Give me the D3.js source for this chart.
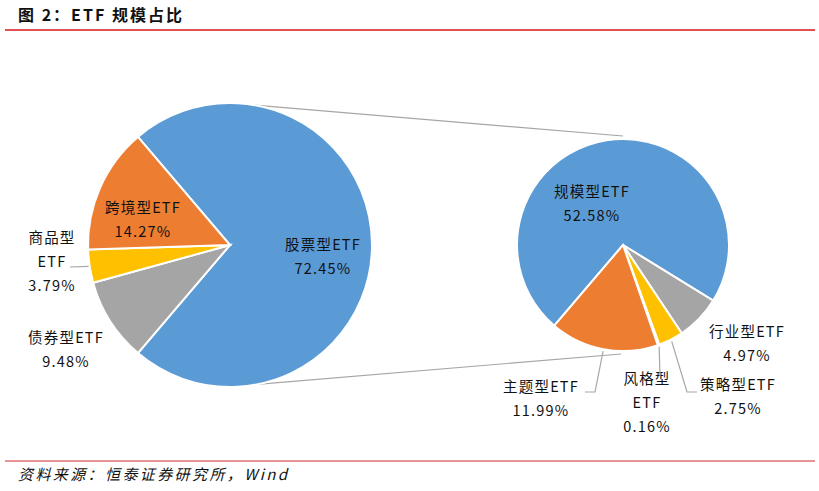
<!DOCTYPE html>
<html>
<head>
<meta charset="utf-8">
<script src="https://cdn.jsdelivr.net/npm/d3@7"></script>
<style>
  body { margin: 0; background: #fff; }
  svg text { font-family: "Noto Sans CJK SC", "Noto Sans", sans-serif; }
</style>
</head>
<body>
<svg id="chart"></svg>
<script>
// data: first pie (all ETF) and second pie (split of 股票型ETF)
var mainNames = ["股票型ETF", "债券型ETF", "商品型ETF", "跨境型ETF"];
var mainValues = [72.45, 9.48, 3.79, 14.27];
var mainColors = ["#5B9BD5", "#A5A5A5", "#FFC000", "#ED7D31"];

var subNames = ["规模型ETF", "行业型ETF", "策略型ETF", "风格型ETF", "主题型ETF"];
var subValues = [52.58, 4.97, 2.75, 0.16, 11.99];
var subColors = ["#5B9BD5", "#A5A5A5", "#FFC000", "#4472C4", "#ED7D31"];

var width = 819, height = 491;
var svg = d3.select("#chart")
  .attr("width", width)
  .attr("height", height);

// title + rules
svg.append("text")
  .attr("x", 18).attr("y", 21)
  .attr("font-size", 16).attr("font-weight", "bold")
  .attr("letter-spacing", 2)
  .attr("fill", "#111")
  .text("图 2：ETF 规模占比");
svg.append("line")
  .attr("x1", 5).attr("x2", 815).attr("y1", 30).attr("y2", 30)
  .attr("stroke", "#d7141a").attr("stroke-width", 1.3);
svg.append("line")
  .attr("x1", 5).attr("x2", 815).attr("y1", 461).attr("y2", 461)
  .attr("stroke", "#e07070").attr("stroke-width", 1.5);
svg.append("text")
  .attr("x", 18).attr("y", 480)
  .attr("font-size", 15).attr("font-style", "italic")
  .attr("letter-spacing", 2.4)
  .attr("fill", "#111")
  .text("资料来源：恒泰证券研究所，Wind");

var deg = Math.PI / 180;

// left pie
var c1 = {x: 230, y: 245, r: 142};
var total1 = d3.sum(mainValues);
// split slice is centred towards the second pie (pointing right)
var start1 = Math.PI / 2 - (mainValues[0] / total1) * Math.PI;
var pie1 = d3.pie().sort(null).startAngle(start1).endAngle(start1 + 2 * Math.PI);
var arc1 = d3.arc().innerRadius(0).outerRadius(c1.r);

// right pie
var c2 = {x: 623, y: 245, r: 106};
var start2 = -139.6 * deg;
var pie2 = d3.pie().sort(null).startAngle(start2).endAngle(start2 + 2 * Math.PI);
var arc2 = d3.arc().innerRadius(0).outerRadius(c2.r);

function polar(c, a, r) {
  return [c.x + r * Math.sin(a), c.y - r * Math.cos(a)];
}

// connector lines between the pies
var conn = [
  [polar(c1, 10 * deg, c1.r), polar(c2, 0, c2.r + 3)],
  [polar(c1, 169 * deg, c1.r), polar(c2, 181 * deg, c2.r + 3)]
];
svg.selectAll(".conn")
  .data(conn)
  .enter()
  .append("line")
  .attr("class", "conn")
  .attr("x1", function(d) { return d[0][0]; })
  .attr("y1", function(d) { return d[0][1]; })
  .attr("x2", function(d) { return d[1][0]; })
  .attr("y2", function(d) { return d[1][1]; })
  .attr("stroke", "#a6a6a6")
  .attr("stroke-width", 1.2);

var g1 = svg.append("g").attr("transform", "translate(" + c1.x + "," + c1.y + ")");
g1.selectAll("path")
  .data(pie1(mainValues))
  .enter()
  .append("path")
  .attr("d", arc1)
  .attr("fill", function(d, i) { return mainColors[i]; })
  .attr("stroke", "#fff")
  .attr("stroke-width", 2);

var g2 = svg.append("g").attr("transform", "translate(" + c2.x + "," + c2.y + ")");
g2.selectAll("path")
  .data(pie2(subValues))
  .enter()
  .append("path")
  .attr("d", arc2)
  .attr("fill", function(d, i) { return subColors[i]; })
  .attr("stroke", "#fff")
  .attr("stroke-width", 2);

// label layout: lines of text and the centre of the first line
var mainLabels = [
  {lines: ["股票型ETF", "72.45%"], x: 323, y: 245},
  {lines: ["债券型ETF", "9.48%"], x: 66, y: 338},
  {lines: ["商品型", "ETF", "3.79%"], x: 52, y: 238},
  {lines: ["跨境型ETF", "14.27%"], x: 143, y: 208}
];
var subLabels = [
  {lines: ["规模型ETF", "52.58%"], x: 592, y: 192},
  {lines: ["行业型ETF", "4.97%"], x: 747, y: 332},
  {lines: ["策略型ETF", "2.75%"], x: 738, y: 385},
  {lines: ["风格型", "ETF", "0.16%"], x: 647, y: 379},
  {lines: ["主题型ETF", "11.99%"], x: 541, y: 387}
];

function drawLabels(list, values) {
  list.forEach(function(lb, i) {
    var t = svg.append("text")
      .attr("text-anchor", "middle")
      .attr("font-size", 14.5)
      .attr("letter-spacing", 1.2)
      .attr("fill", "#111");
    lb.lines.forEach(function(s, j) {
      t.append("tspan")
        .attr("x", lb.x)
        .attr("y", lb.y + 5 + j * 24)
        .text(s);
    });
  });
}
drawLabels(mainLabels, mainValues);
drawLabels(subLabels, subValues);

// leader lines: from slice edge (mid angle) through bend points
var p1 = pie1(mainValues), p2 = pie2(subValues);
function mid(d) { return (d.startAngle + d.endAngle) / 2; }
var leaders = [
  [polar(c1, mid(p1[2]), c1.r + 1), [70, 267]],
  [polar(c2, mid(p2[4]), c2.r + 2), [595, 392], [585, 392]],
  [polar(c2, mid(p2[3]), c2.r + 2), [660, 376]],
  [polar(c2, mid(p2[2]), c2.r + 2), [687, 392], [697, 392]]
];
svg.selectAll(".leader")
  .data(leaders)
  .enter()
  .append("path")
  .attr("class", "leader")
  .attr("d", d3.line())
  .attr("fill", "none")
  .attr("stroke", "#a6a6a6")
  .attr("stroke-width", 1.2);
</script>
</body>
</html>
